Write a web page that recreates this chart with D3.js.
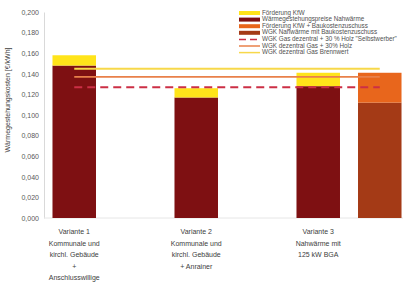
<!DOCTYPE html>
<html>
<head>
<meta charset="utf-8">
<script src="https://cdn.jsdelivr.net/npm/d3@7"></script>
<style>
    body { margin: 0; background: #fff; }
    text { font-family: "Liberation Sans", Arial, sans-serif; fill: #404040; }
</style>
</head>
<body>
<svg id="chart" width="403" height="284"></svg>
<script>
// Categories, one label line per entry
const categories = ["v1", "v2", "v3"];
const categoryLabels = [
    ["Variante 1", "Kommunale und", "kirchl. Gebäude", "+", "Anschlusswillige"],
    ["Variante 2", "Kommunale und", "kirchl. Gebäude", "+ Anrainer"],
    ["Variante 3", "Nahwärme mit", "125 kW BGA"]
];

// Stacked bars (first bar of each category)
const waermepreis = [0.148, 0.117, 0.128];
const foerderungKfw = [0.010, 0.009, 0.013];

// Second bar (only Variante 3 has one)
const wgkBaukosten = [null, null, 0.112];
const foerderungBaukosten = [null, null, 0.029];

// Reference lines
const gasBrennwert = 0.145;
const gasHolz = 0.137;
const gasSelbstwerber = 0.127;

const yTicks = [0, 0.02, 0.04, 0.06, 0.08, 0.1, 0.12, 0.14, 0.16, 0.18, 0.2];

const legendItems = [
    { name: "Förderung KfW", kind: "rect", color: "#ffe41a" },
    { name: "Wärmegestehungspreise Nahwärme", kind: "rect", color: "#7e1012" },
    { name: "Förderung KfW + Baukostenzuschuss", kind: "rect", color: "#e8661c" },
    { name: "WGK Nahwärme mit Baukostenzuschuss", kind: "rect", color: "#a43a16" },
    { name: "WGK Gas dezentral + 30 % Holz \"Selbstwerber\"", kind: "dash", color: "#cc2f45" },
    { name: "WGK dezentral Gas + 30% Holz", kind: "line", color: "#e9804a" },
    { name: "WGK dezentral Gas Brennwert", kind: "line", color: "#f7d84a" }
];

const svg = d3.select("#chart");

// Scales
const x = d3.scaleBand().domain(categories).range([44, 410]);
const xInner = d3.scaleBand()
    .domain(["main", "bk"])
    .range([0, x.bandwidth()])
    .paddingInner(0.293)
    .paddingOuter(0.138);
const y = d3.scaleLinear().domain([0, 0.2]).range([218, 12]);

const comma = d3.formatLocale({ decimal: ",", thousands: ".", grouping: [3], currency: ["", "€"] });

// Y axis
const yAxis = svg.append("g")
    .attr("transform", "translate(44,0)")
    .call(d3.axisLeft(y).tickValues(yTicks).tickFormat(comma.format(".3f")).tickSize(0).tickPadding(5));
yAxis.select(".domain").attr("stroke", "#d9d9d9");
yAxis.selectAll("text").attr("font-size", 7).style("fill", "#595959");

svg.append("line")
    .attr("x1", 44).attr("x2", 403)
    .attr("y1", y(0)).attr("y2", y(0))
    .attr("stroke", "#e6e6e6");

svg.append("text")
    .attr("transform", `translate(8,${(y(0) + y(0.2)) / 2 - 15}) rotate(-90)`)
    .attr("text-anchor", "middle")
    .attr("dominant-baseline", "middle")
    .attr("font-size", 7)
    .text("Wärmegestehungskosten [€/kWh]");

// Bars
const barW = xInner.bandwidth();
const mainX = (i) => x(categories[i]) + xInner("main");
const bkX = (i) => x(categories[i]) + xInner("bk");

const bars = svg.append("g");
categories.forEach((c, i) => {
    const base = waermepreis[i];
    bars.append("rect")
        .attr("x", mainX(i)).attr("width", barW)
        .attr("y", y(base)).attr("height", y(0) - y(base))
        .attr("fill", "#7e1012");
    bars.append("rect")
        .attr("x", mainX(i)).attr("width", barW)
        .attr("y", y(base + foerderungKfw[i])).attr("height", y(base) - y(base + foerderungKfw[i]))
        .attr("fill", "#ffe41a");

    if (wgkBaukosten[i] != null) {
        const b = wgkBaukosten[i];
        bars.append("rect")
            .attr("x", bkX(i)).attr("width", barW)
            .attr("y", y(b)).attr("height", y(0) - y(b))
            .attr("fill", "#a43a16");
        bars.append("rect")
            .attr("x", bkX(i)).attr("width", barW)
            .attr("y", y(b + foerderungBaukosten[i])).attr("height", y(b) - y(b + foerderungBaukosten[i]))
            .attr("fill", "#e8661c");
    }
});

// Reference lines, from first bar centre to last bar centre
const lineX1 = mainX(0) + barW / 2;
const lineX2 = bkX(2) + barW / 2;
const refLines = [
    { v: gasBrennwert, color: "#f7d84a", width: 2, dash: null },
    { v: gasHolz, color: "#e9804a", width: 1.6, dash: null },
    { v: gasSelbstwerber, color: "#cc2f45", width: 2, dash: "8,5" }
];
svg.append("g").selectAll("line")
    .data(refLines)
    .enter()
    .append("line")
    .attr("x1", lineX1).attr("x2", lineX2)
    .attr("y1", (d) => y(d.v)).attr("y2", (d) => y(d.v))
    .attr("stroke", (d) => d.color)
    .attr("stroke-width", (d) => d.width)
    .attr("stroke-dasharray", (d) => d.dash);

// Category labels, centred under the first bar
categories.forEach((c, i) => {
    const t = svg.append("text")
        .attr("text-anchor", "middle")
        .attr("font-size", 7)
        .style("fill", "#404040");
    categoryLabels[i].forEach((line, j) => {
        t.append("tspan")
            .attr("x", mainX(i) + barW / 2)
            .attr("y", 234 + j * 11.6)
            .text(line);
    });
});

// Legend
const legend = svg.append("g").attr("transform", "translate(239,13)");
const rows = legend.selectAll("g")
    .data(legendItems)
    .enter()
    .append("g")
    .attr("transform", (d, i) => `translate(0,${i * 6.6})`);
rows.filter((d) => d.kind === "rect")
    .append("rect")
    .attr("x", 0).attr("y", -2).attr("width", 21).attr("height", 4)
    .attr("fill", (d) => d.color);
rows.filter((d) => d.kind !== "rect")
    .append("line")
    .attr("x1", 0).attr("x2", 21)
    .attr("stroke", (d) => d.color)
    .attr("stroke-width", 1.5)
    .attr("stroke-dasharray", (d) => (d.kind === "dash" ? "7,4" : null));
rows.append("text")
    .attr("x", 23)
    .attr("dominant-baseline", "middle")
    .attr("font-size", 6.3)
    .style("fill", "#505050")
    .text((d) => d.name);
</script>
</body>
</html>
